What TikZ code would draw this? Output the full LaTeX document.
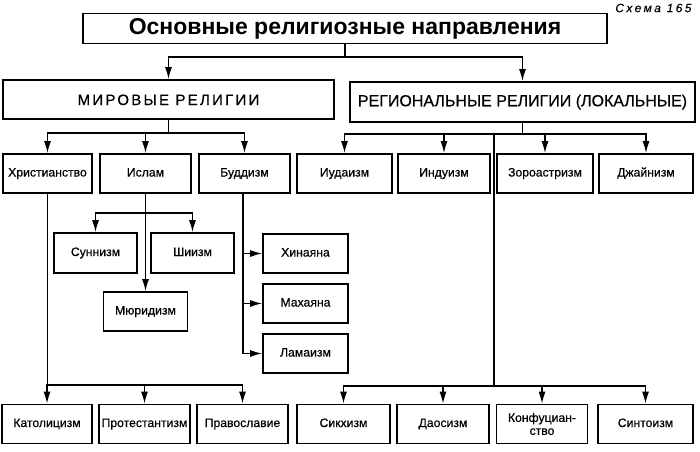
\documentclass[tikz,border=0pt]{standalone}
\usepackage{fontspec}
\setmainfont{Liberation Sans}
\newfontfamily\boxfont[FakeBold=0.5]{Liberation Sans}
\newfontfamily\spacedfont[LetterSpace=15,FakeBold=0.5]{Liberation Sans}
\newfontfamily\schemefont[LetterSpace=20,FakeBold=0.3]{Liberation Sans}
\usetikzlibrary{arrows.meta}
\begin{document}
\begin{tikzpicture}[x=1pt,y=-1pt,
  frame/.style={draw,line width=1.8pt,inner sep=0pt,align=center,font=\boxfont\fontsize{12.2}{13}\selectfont},
  box/.style={frame,text height=8.5pt,text depth=2.5pt},
  conn/.style={line width=1.3pt},
  arr/.style={conn,-{Latex[length=12pt,width=7pt]}}]
\useasboundingbox (0,0) rectangle (700,451);

\node[anchor=east,font=\schemefont\itshape\fontsize{12}{13}\selectfont] (scheme) at (695,8) {Схема 165};

\node[frame,minimum width=524pt,minimum height=30pt,text height=16pt,text depth=4pt,font=\bfseries\fontsize{23}{26}\selectfont] (title) at (345,28.5) {Основные религиозные направления};
\node[frame,minimum width=331pt,minimum height=39pt,text height=11pt,text depth=0pt,font=\spacedfont\fontsize{15}{17}\selectfont] (mir) at (168.5,99.5) {МИРОВЫЕ РЕЛИГИИ};
\node[frame,minimum width=345pt,minimum height=40pt,text height=11.5pt,text depth=3pt,font=\boxfont\fontsize{16}{18}\selectfont] (reg) at (522.5,102) {РЕГИОНАЛЬНЫЕ РЕЛИГИИ (ЛОКАЛЬНЫЕ)};

% row 2
\node[box,minimum width=89pt,minimum height=39pt] (hr) at (47.5,173.5) {Христианство};
\node[box,minimum width=91pt,minimum height=39pt] (isl) at (145.5,173.5) {Ислам};
\node[box,minimum width=91pt,minimum height=39pt] (bud) at (244.5,173.5) {Буддизм};
\node[box,minimum width=95pt,minimum height=39pt] (iud) at (344.5,173.5) {Иудаизм};
\node[box,minimum width=92pt,minimum height=39pt] (ind) at (444,173.5) {Индуизм};
\node[box,minimum width=96pt,minimum height=39pt] (zor) at (545,173.5) {Зороастризм};
\node[box,minimum width=94pt,minimum height=39pt] (dzh) at (646,173.5) {Джайнизм};

% Islam branches
\node[box,minimum width=83pt,minimum height=40pt] (sun) at (95.5,253) {Суннизм};
\node[box,minimum width=83pt,minimum height=40pt] (shi) at (192.5,253) {Шиизм};
\node[box,minimum width=84pt,minimum height=39pt] (mur) at (145.5,311.5) {Мюридизм};

% Buddhism branches
\node[box,minimum width=85pt,minimum height=39pt] (hin) at (305.5,253.5) {Хинаяна};
\node[box,minimum width=85pt,minimum height=39pt] (mah) at (305.5,303.5) {Махаяна};
\node[box,minimum width=85pt,minimum height=39pt] (lam) at (305.5,353.5) {Ламаизм};

% bottom row
\node[box,minimum width=90pt,minimum height=39pt] (kat) at (47,424) {Католицизм};
\node[box,minimum width=91pt,minimum height=39pt] (pro) at (144.5,424) {Протестантизм};
\node[box,minimum width=91pt,minimum height=39pt] (pra) at (242.5,424) {Православие};
\node[box,minimum width=93pt,minimum height=39pt] (sik) at (343.5,424) {Сикхизм};
\node[box,minimum width=92pt,minimum height=39pt] (dao) at (443,424) {Даосизм};
\node[frame,minimum width=91pt,minimum height=39pt] (kon) at (542,424) {Конфуциан-\\ство};
\node[box,minimum width=95pt,minimum height=39pt] (sin) at (645.5,424) {Синтоизм};

% connectors: title
\coordinate (t1) at (345,57);
\draw[conn] (title.south) -- (t1);
\draw[arr] (t1) -| (mir.north);
\draw[arr] (t1) -| (reg.north);

% world religions
\coordinate (m1) at (168.5,133);
\draw[conn] (mir.south) -- (m1);
\draw[arr] (m1) -| (hr.north);
\draw[arr] (m1) -| (isl.north);
\draw[arr] (m1) -| (bud.north);

% regional religions
\coordinate (r1) at (522.5,134);
\draw[conn] (reg.south) -- (r1);
\draw[arr] (r1) -| (iud.north);
\draw[arr] (r1) -| (ind.north);
\draw[arr] (r1) -| (zor.north);
\draw[arr] (r1) -| (dzh.north);
\coordinate (r2) at (494,134);
\coordinate (r3) at (494,386);
\draw[conn] (r2) -- (r3);
\draw[arr] (r3) -| (sik.north);
\draw[arr] (r3) -| (dao.north);
\draw[arr] (r3) -| (kon.north);
\draw[arr] (r3) -| (sin.north);

% Christianity
\coordinate (h1) at (47.5,385);
\draw[conn] (hr.south) -- (h1);
\draw[arr] (h1) -| (kat.north);
\draw[arr] (h1) -| (pro.north);
\draw[arr] (h1) -| (pra.north);

% Islam
\coordinate (i1) at (145.5,213);
\draw[arr] (isl.south) -- (mur.north);
\draw[arr] (i1) -| (sun.north);
\draw[arr] (i1) -| (shi.north);

% Buddhism
\coordinate (b1) at (243,193);
\coordinate (b2) at (243,353.5);
\draw[conn] (b1) -- (b2);
\draw[arr] (b1 |- hin.west) -- (hin.west);
\draw[arr] (b1 |- mah.west) -- (mah.west);
\draw[arr] (b2) -- (lam.west);
\end{tikzpicture}
\end{document}
